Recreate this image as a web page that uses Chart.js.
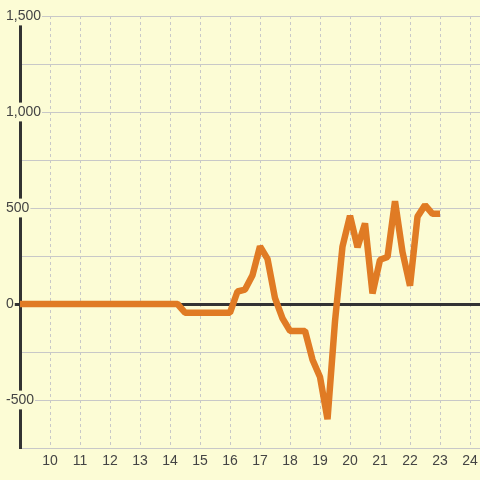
<!DOCTYPE html>
<html>
<head>
<meta charset="utf-8">
<script src="https://cdn.jsdelivr.net/npm/chart.js@4"></script>
<style>
  html, body { margin: 0; padding: 0; background: #fcfcd5; }
  canvas { display: block; }
</style>
</head>
<body>
<canvas id="myChart" width="480" height="480"></canvas>
<script>
// time of day (hours, quarter-hour steps)
const hours = [
    9, 9.25, 9.5, 9.75, 10, 10.25, 10.5, 10.75, 11, 11.25, 11.5, 11.75,
    12, 12.25, 12.5, 12.75, 13, 13.25, 13.5, 13.75, 14, 14.25, 14.5, 14.75,
    15, 15.25, 15.5, 15.75, 16, 16.25, 16.5, 16.75, 17, 17.25, 17.5, 17.75,
    18, 18.25, 18.5, 18.75, 19, 19.25, 19.5, 19.75, 20, 20.25, 20.5, 20.75,
    21, 21.25, 21.5, 21.75, 22, 22.25, 22.5, 22.75, 23
];

const values = [
    0, 0, 0, 0, 0, 0, 0, 0, 0, 0, 0, 0,
    0, 0, 0, 0, 0, 0, 0, 0, 0, 0, -45, -45,
    -45, -45, -45, -45, -45, 65, 75, 150, 300, 235, 30, -75,
    -140, -140, -140, -290, -380, -600, -90, 300, 460, 295, 420, 55,
    230, 245, 535, 270, 95, 455, 515, 470, 470
];

const xMin = 9;
const xMax = 24.333;
const yMin = -750;
const yMax = 1500;

const bg = '#fcfcd5';
const gridGray = '#c8c8c8';
const dark = '#333333';

const points = hours.map((h, i) => ({ x: h, y: values[i] }));

const ctx = document.getElementById('myChart').getContext('2d');

const myChart = new Chart(ctx, {
    type: 'line',
    data: {
        datasets: [{
            data: points,
            borderColor: '#e07b24',
            borderWidth: 6.5,
            borderJoinStyle: 'bevel',
            pointRadius: 0,
            fill: false,
            tension: 0
        }]
    },
    options: {
        responsive: false,
        animation: false,
        devicePixelRatio: 1,
        layout: { padding: { left: 6, top: 16, right: 0, bottom: 0 } },
        plugins: {
            legend: { display: false },
            tooltip: { enabled: false }
        },
        scales: {
            x: {
                type: 'linear',
                min: xMin,
                max: xMax,
                afterFit: s => { s.height = 32; },
                grid: {
                    color: c => c.tick && c.tick.value === xMin ? 'rgba(0,0,0,0)' : gridGray,
                    drawTicks: true,
                    tickLength: 5,
                    tickColor: 'rgba(0,0,0,0)'
                },
                border: { display: true, color: gridGray, width: 1, dash: [3, 3] },
                ticks: {
                    stepSize: 1,
                    includeBounds: false,
                    autoSkip: false,
                    maxRotation: 0,
                    padding: 0,
                    color: '#444',
                    font: { family: 'Liberation Sans', size: 14 },
                    callback: v => v === xMin ? '' : String(v)
                }
            },
            y: {
                min: yMin,
                max: yMax,
                afterFit: s => { s.width = 14; },
                grid: {
                    color: c => c.tick && c.tick.value === 0 ? dark : gridGray,
                    lineWidth: c => c.tick && c.tick.value === 0 ? 3 : 1,
                    drawTicks: true,
                    tickLength: 6,
                    tickColor: c => c.tick && c.tick.value === 0 ? dark : 'rgba(0,0,0,0)',
                    tickWidth: c => c.tick && c.tick.value === 0 ? 3 : 1
                },
                border: { display: true, color: dark, width: 3 },
                ticks: {
                    stepSize: 250,
                    mirror: true,
                    padding: -14,
                    color: '#444',
                    font: { family: 'Liberation Sans', size: 14 },
                    showLabelBackdrop: true,
                    backdropPadding: 1,
                    backdropColor: c => c.tick && c.tick.value % 500 === 0 ? bg : 'rgba(0,0,0,0)',
                    callback: v => v % 500 === 0 ? v.toLocaleString('en-US') : ''
                }
            }
        }
    }
});
</script>
</body>
</html>
